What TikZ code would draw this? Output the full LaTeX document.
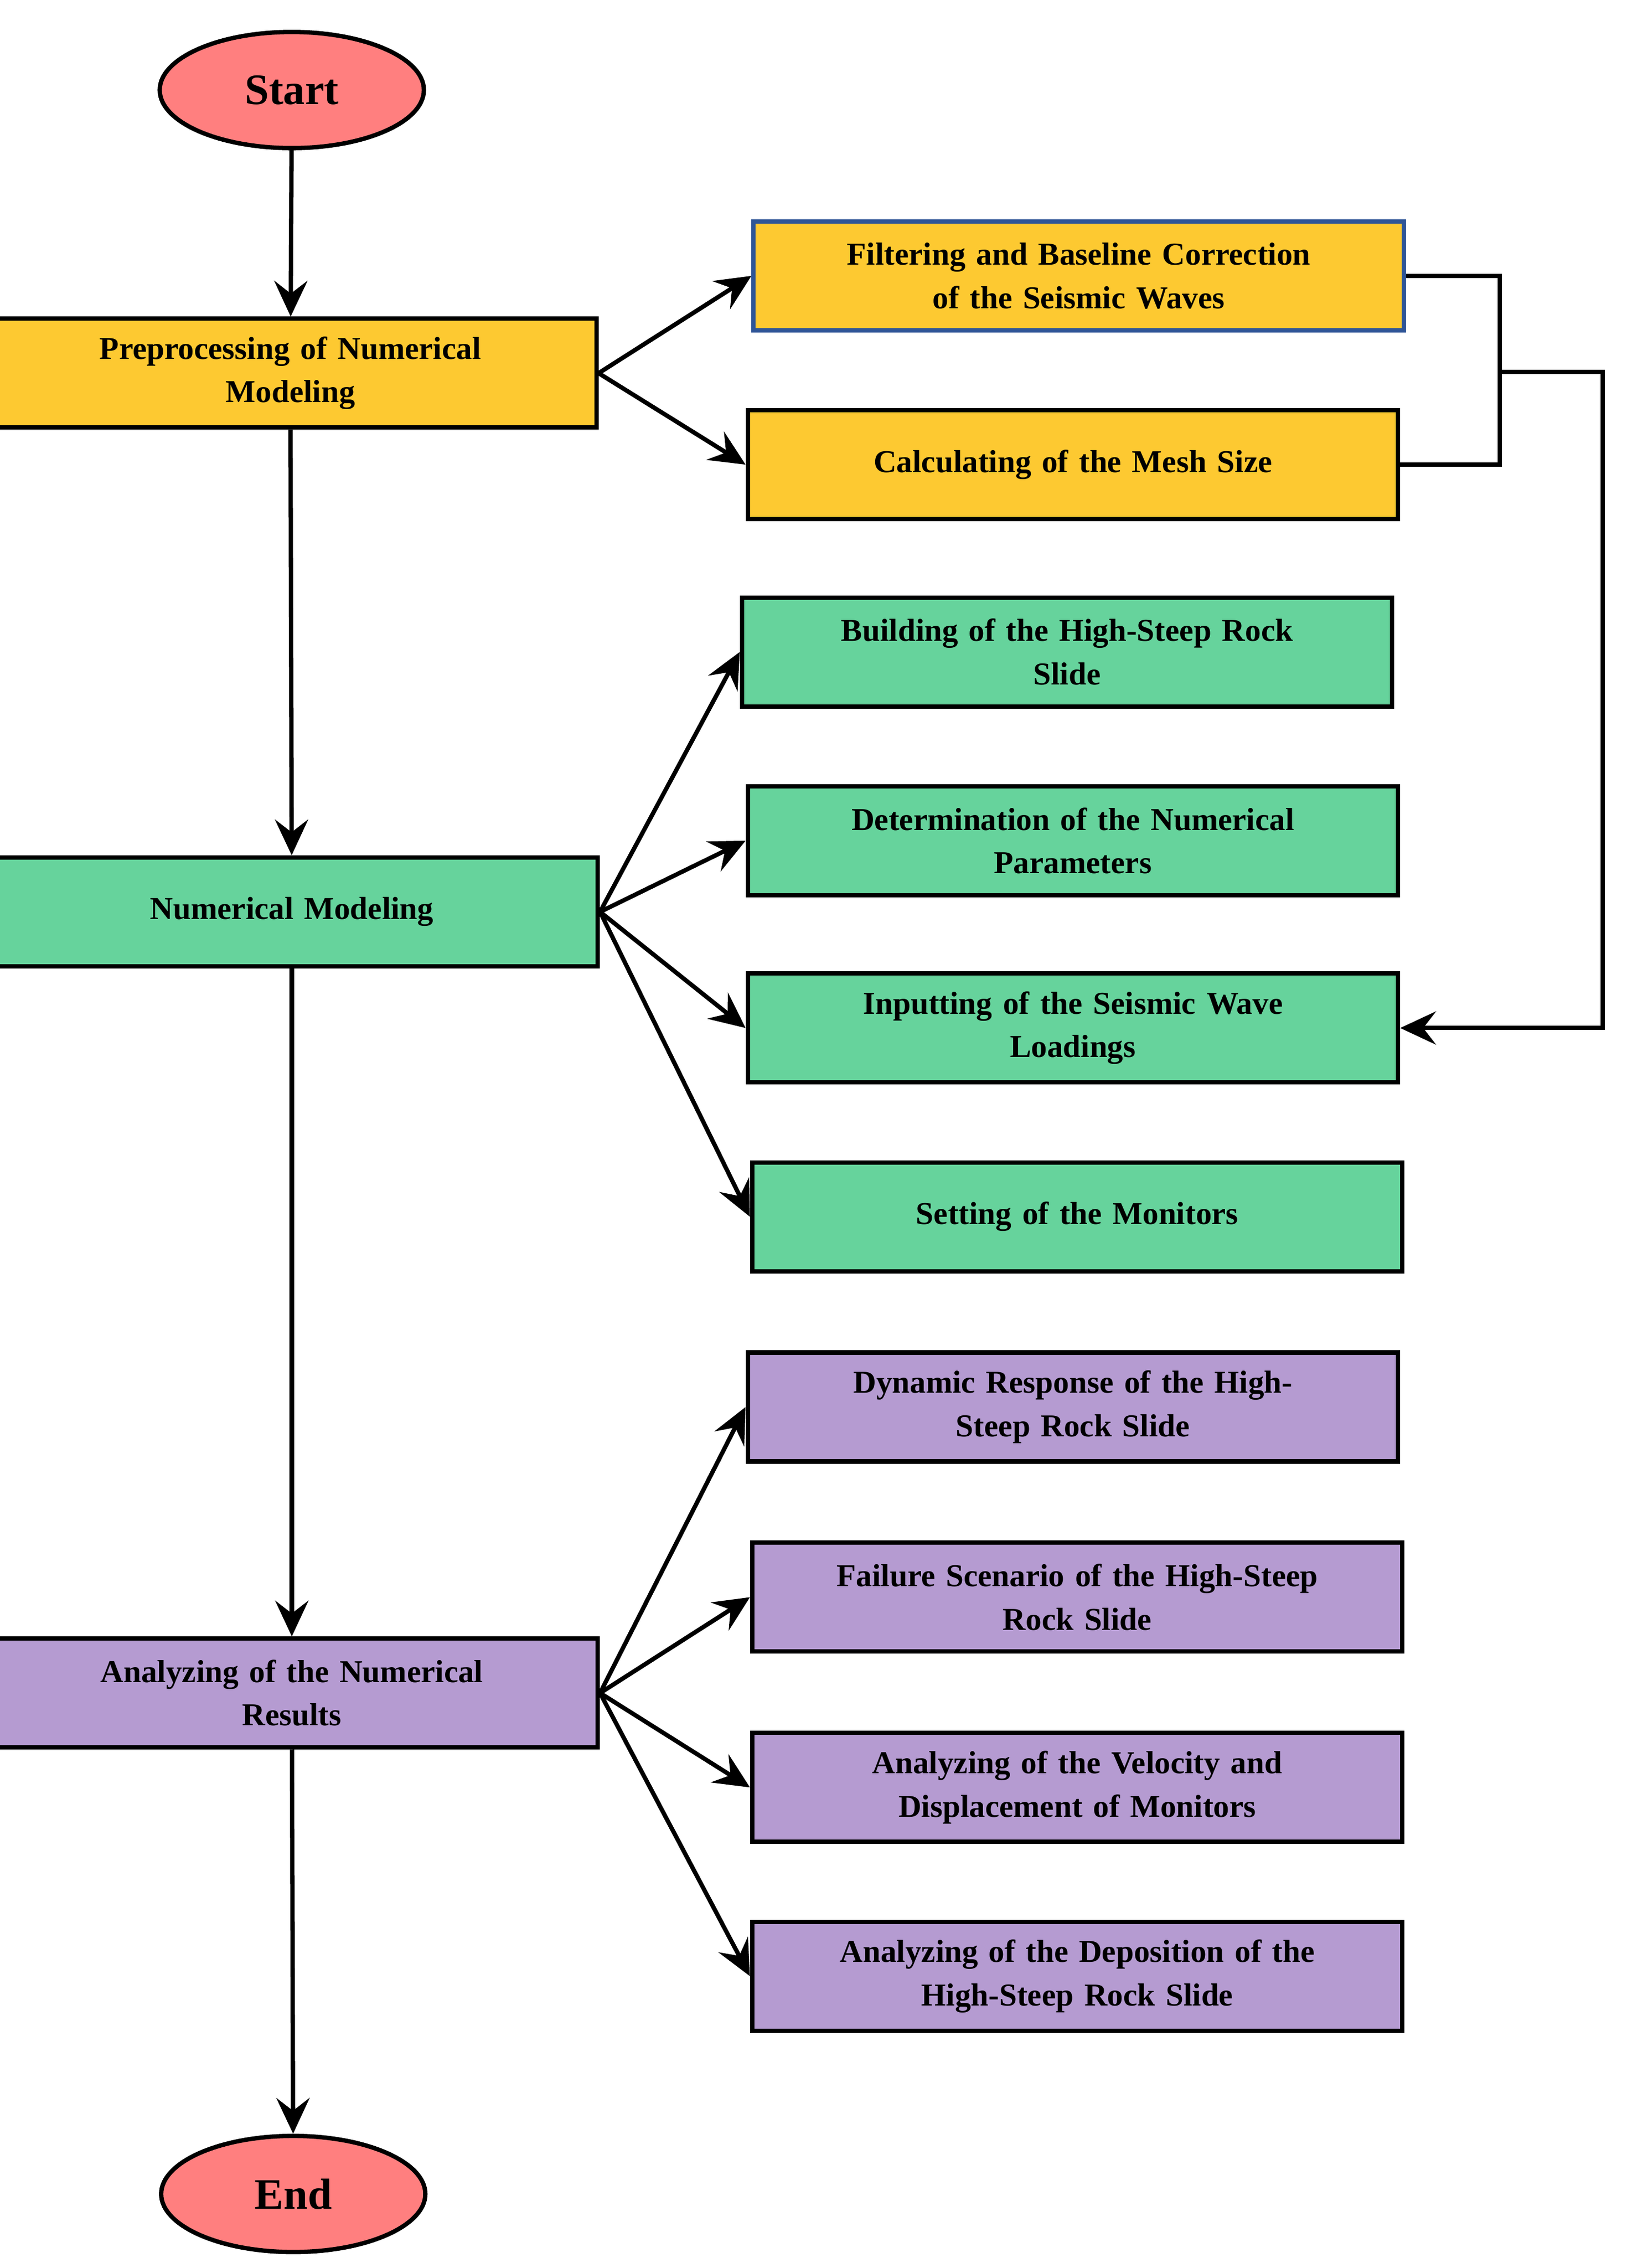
\documentclass[tikz,border=0pt]{standalone}
\usepackage{fontspec}
\setmainfont{Liberation Serif}
\usetikzlibrary{arrows.meta,shapes.geometric}
\definecolor{yel}{HTML}{FDC931}
\definecolor{grn}{HTML}{66D39C}
\definecolor{pur}{HTML}{B59BD1}
\definecolor{red}{HTML}{FF7F7F}
\definecolor{blu}{HTML}{2F5597}
\begin{document}
\begin{tikzpicture}[x=0.02cm,y=-0.02cm,
  lw/.style={line width=1.7pt},
  box/.style={draw,lw,minimum width=8.96cm,minimum height=1.5cm,align=center,font=\bfseries\fontsize{12.5}{17}\selectfont,text width=8.2cm},
  lbox/.style={box,minimum width=7.47cm},
  ell/.style={draw,lw,ellipse,fill=red,minimum width=3.64cm,minimum height=1.6cm,font=\bfseries\fontsize{17}{20}\selectfont},
  arr/.style={lw,-{Stealth[length=14pt,width=13pt,inset=5pt]}},
  ln/.style={lw}]
\useasboundingbox (0,0) rectangle (1135,1562);
\node[ell] (start) at (201,62) {Start};
\node[lbox,fill=yel] (pre) at (200,257) {Preprocessing of Numerical\\Modeling};
\node[box,fill=yel,draw=blu] (filt) at (743,190) {Filtering and Baseline Correction\\of the Seismic Waves};
\node[box,fill=yel] (mesh) at (739,320) {Calculating of the Mesh Size};
\node[lbox,fill=grn] (num) at (201,628) {Numerical Modeling};
\node[box,fill=grn] (b1) at (735,449) {Building of the High-Steep Rock\\Slide};
\node[box,fill=grn] (b2) at (739,579) {Determination of the Numerical\\Parameters};
\node[box,fill=grn] (b3) at (739,708) {Inputting of the Seismic Wave\\Loadings};
\node[box,fill=grn] (b4) at (742,838) {Setting of the Monitors};
\node[lbox,fill=pur] (ana) at (201,1166) {Analyzing of the Numerical\\Results};
\node[box,fill=pur] (c1) at (739,969) {Dynamic Response of the High-\\Steep Rock Slide};
\node[box,fill=pur] (c2) at (742,1100) {Failure Scenario of the High-Steep\\Rock Slide};
\node[box,fill=pur] (c3) at (742,1231) {Analyzing of the Velocity and\\Displacement of Monitors};
\node[box,fill=pur] (c4) at (742,1361) {Analyzing of the Deposition of the\\High-Steep Rock Slide};
\node[ell] (end) at (202,1511) {End};
\coordinate (j) at (1033,256);
\draw[arr] (start) -- (pre);
\draw[arr] (pre) -- (num);
\draw[arr] (num) -- (ana);
\draw[arr] (ana) -- (end);
\draw[arr] (pre.east) -- (filt.west);
\draw[arr] (pre.east) -- (mesh.west);
\draw[ln] (filt.east) -| (j) |- (mesh.east);
\draw[arr] (j) -- (1104,256) |- (b3.east);
\foreach \t in {b1,b2,b3,b4} \draw[arr] (num.east) -- (\t.west);
\foreach \t in {c1,c2,c3,c4} \draw[arr] (ana.east) -- (\t.west);
\end{tikzpicture}
\end{document}
